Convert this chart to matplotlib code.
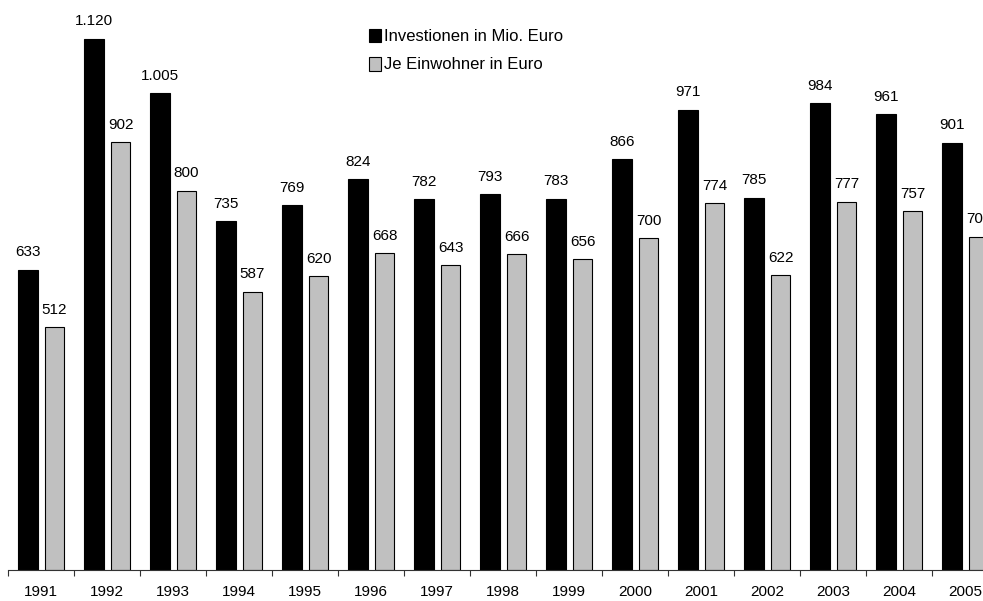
import matplotlib.pyplot as plt
import numpy as np

plt.rcParams['font.family'] = ['Liberation Sans', 'DejaVu Sans']

years = ['1991', '1992', '1993', '1994', '1995', '1996', '1997', '1998',
         '1999', '2000', '2001', '2002', '2003', '2004', '2005']
invest = [633, 1120, 1005, 735, 769, 824, 782, 793, 783, 866, 971, 785, 984, 961, 901]
per_head = [512, 902, 800, 587, 620, 668, 643, 666, 656, 700, 774, 622, 777, 757, 703]


def fmt(v):
    return f"{v:,}".replace(",", ".")


W, H = 983, 601
fig = plt.figure(figsize=(W / 100, H / 100), dpi=100)
# axes run past the right edge, like in the original screenshot
ax = fig.add_axes([8 / W, (H - 570) / H, 990 / W, 570 / H])

x = np.arange(len(years))
w = 0.30
b1 = ax.bar(x - 0.197, invest, w, color='black', edgecolor='black', linewidth=0.8,
            label='Investionen in Mio. Euro')
b2 = ax.bar(x + 0.205, per_head, w, color='#c0c0c0', edgecolor='black', linewidth=0.8,
            label='Je Einwohner in Euro')

for bars, vals in [(b1, invest), (b2, per_head)]:
    for r, v in zip(bars, vals):
        ax.annotate(fmt(v), (r.get_x() + r.get_width() / 2, r.get_height()),
                    xytext=(0, 7.5), textcoords='offset points',
                    ha='center', va='bottom', fontsize=11)

ax.set_xlim(-0.5, len(years) - 0.5)
ax.set_ylim(0, 1202)

ax.set_xticks(np.arange(len(years) + 1) - 0.5)
ax.set_xticklabels([])
ax.set_xticks(x, minor=True)
ax.set_xticklabels(years, minor=True, fontsize=11)
ax.tick_params(axis='x', which='major', length=4, direction='out', color='#333333')
ax.tick_params(axis='x', which='minor', length=0, pad=11)
ax.set_yticks([])

for s in ['left', 'right', 'top']:
    ax.spines[s].set_visible(False)
ax.spines['bottom'].set_color('#333333')

fig.legend(loc='upper left', bbox_to_anchor=(362 / W, 1 - 22 / H), frameon=False,
           fontsize=12, handlelength=0.75, handleheight=0.9, handletextpad=0.15,
           labelspacing=0.75, borderaxespad=0)

fig.savefig('out.png', dpi=100)
